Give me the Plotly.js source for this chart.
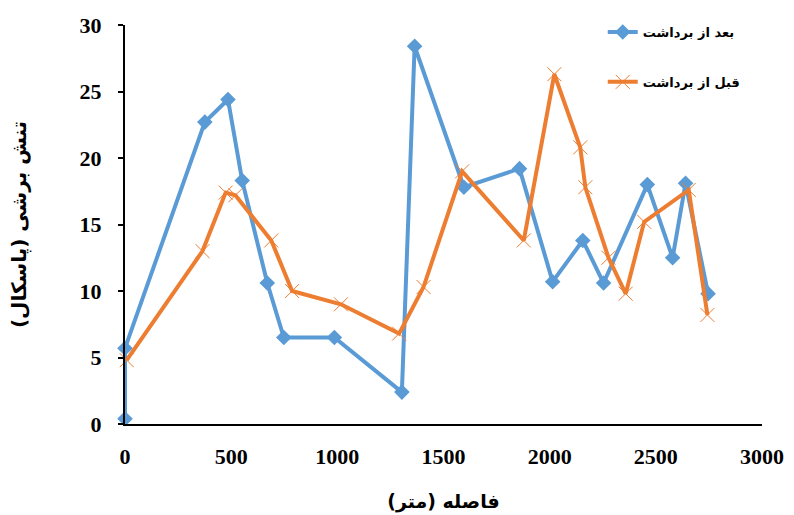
<!DOCTYPE html>
<html>
<head>
<meta charset="utf-8">
<script src="https://cdn.plot.ly/plotly-3.0.1.min.js"></script>
<style>html,body{margin:0;padding:0;background:#fff;}#chart{width:794px;height:515px;}</style>
</head>
<body>
<div id="chart"></div>
<script>
// بعد از برداشت (after)
const afterX = [0, 0, 376, 485, 552, 670, 748, 986, 1304, 1364, 1596, 1858, 2014, 2156, 2254, 2460, 2579, 2640, 2746];
const afterY = [0.4, 5.7, 22.7, 24.4, 18.3, 10.6, 6.5, 6.5, 2.4, 28.4, 17.8, 19.2, 10.7, 13.8, 10.6, 18.0, 12.5, 18.1, 9.8];
// قبل از برداشت (before)
const beforeX = [8, 365, 474, 520, 689, 787, 1017, 1291, 1406, 1588, 1878, 2022, 2144, 2168, 2277, 2358, 2445, 2655, 2743];
const beforeY = [4.8, 13.0, 17.4, 17.2, 13.8, 10.0, 9.0, 6.8, 10.3, 19.0, 13.8, 26.3, 20.8, 17.8, 12.5, 9.8, 15.2, 17.6, 8.2];
const seriesNames = ['بعد از برداشت', 'قبل از برداشت'];
const xTickVals = [0, 500, 1000, 1500, 2000, 2500, 3000];
const yTickVals = [0, 5, 10, 15, 20, 25, 30];
const xTitle = 'فاصله (متر)';
const yTitle = 'تنش برشی (پاسکال)';

const traces = [
  {
    x: afterX, y: afterY, name: seriesNames[0], type: 'scatter', mode: 'lines+markers',
    line: {color: '#5B9BD5', width: 4},
    marker: {symbol: 'diamond', size: 12, color: '#5B9BD5'},
    cliponaxis: false, legendgroup: 'a'
  },
  {
    x: beforeX, y: beforeY, name: seriesNames[1], type: 'scatter', mode: 'lines+markers',
    line: {color: '#ED7D31', width: 4},
    marker: {symbol: 'x-thin-open', size: 14, color: '#ED7D31', line: {color: '#ED7D31', width: 1}},
    cliponaxis: false, legendgroup: 'b'
  }
];

const tickFont = {family: 'Liberation Serif, Times New Roman, serif', size: 22, color: '#000', weight: 'bold'};
const arFont = 'DejaVu Sans, Noto Sans, sans-serif';
const layout = {
  width: 794, height: 515,
  margin: {l: 125, r: 32, t: 25, b: 91},
  paper_bgcolor: '#fff', plot_bgcolor: '#fff',
  showlegend: true,
  legend: {
    x: 0.75, y: 1.02, xanchor: 'left', yanchor: 'top',
    font: {family: arFont, size: 13, color: '#000', weight: 'bold'},
    traceorder: 'grouped', tracegroupgap: 30, bgcolor: 'rgba(0,0,0,0)'
  },
  xaxis: {
    range: [0, 3000], tickvals: xTickVals, ticktext: xTickVals.map(String),
    showgrid: false, zeroline: false, showline: true, linecolor: '#000', linewidth: 2,
    ticks: '', ticklabelstandoff: 12, tickfont: tickFont,
    title: {text: xTitle, standoff: 26, font: {family: arFont, size: 19, color: '#000', weight: 'bold'}}
  },
  yaxis: {
    range: [0, 30], tickvals: yTickVals, ticktext: yTickVals.map(String),
    showgrid: false, zeroline: false, showline: true, linecolor: '#000', linewidth: 2,
    ticks: 'outside', ticklen: 5, tickwidth: 2, tickcolor: '#000', ticklabelstandoff: 12,
    tickfont: tickFont,
    title: {text: yTitle, standoff: 48, font: {family: arFont, size: 20, color: '#000', weight: 'bold'}}
  }
};

Plotly.newPlot('chart', traces, layout, {displayModeBar: false, staticPlot: true});
</script>
</body>
</html>
